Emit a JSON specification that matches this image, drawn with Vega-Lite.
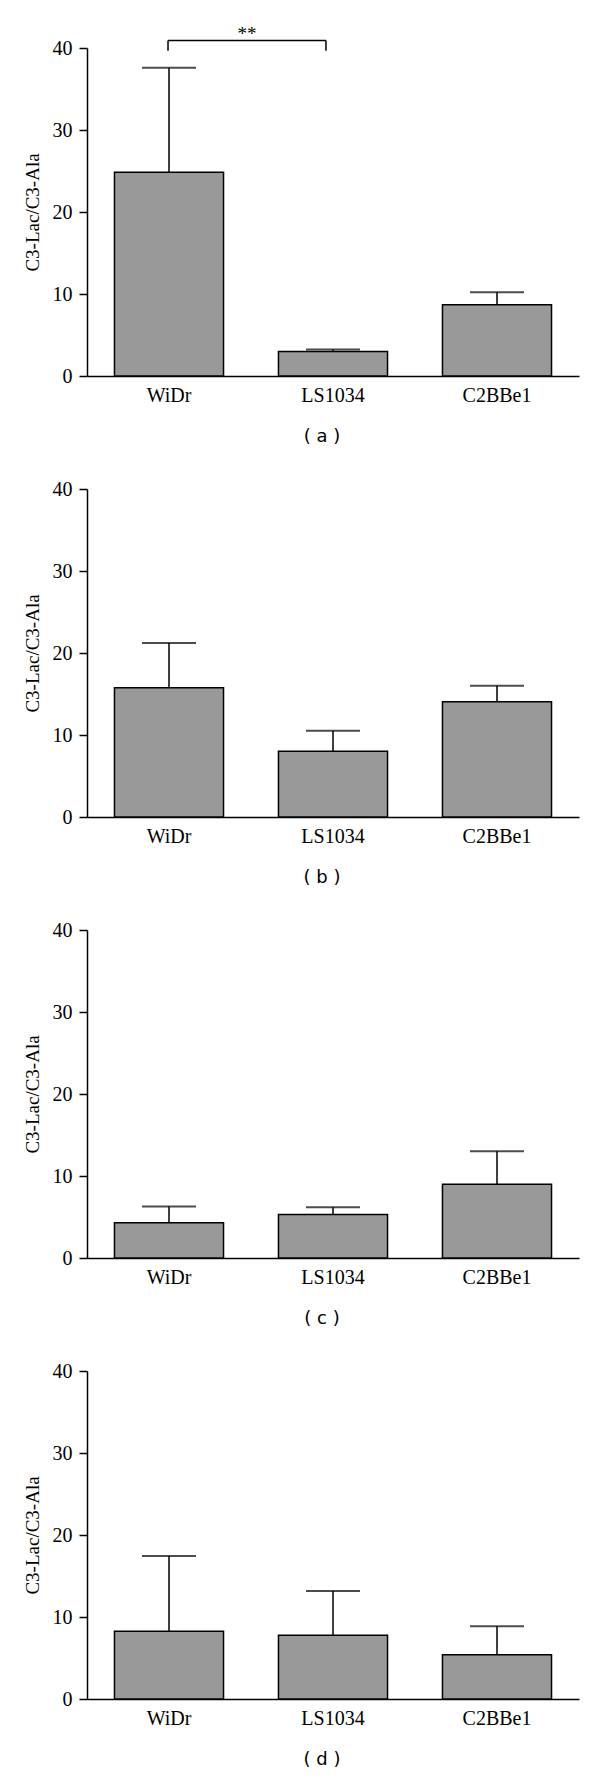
{
  "$schema": "https://vega.github.io/schema/vega-lite/v6.json",
  "background": "white",
  "padding": {"top": 24, "left": 23, "right": 5, "bottom": 5},
  "bounds": "flush",
  "spacing": 113,
  "datasets": {
    "bars": [
      {"panel": "a", "cell": "WiDr", "mean": 24.86, "upper": 37.6},
      {"panel": "a", "cell": "LS1034", "mean": 2.98, "upper": 3.22},
      {"panel": "a", "cell": "C2BBe1", "mean": 8.69, "upper": 10.2},
      {"panel": "b", "cell": "WiDr", "mean": 15.76, "upper": 21.22},
      {"panel": "b", "cell": "LS1034", "mean": 8.02, "upper": 10.51},
      {"panel": "b", "cell": "C2BBe1", "mean": 14.05, "upper": 16.01},
      {"panel": "c", "cell": "WiDr", "mean": 4.31, "upper": 6.27},
      {"panel": "c", "cell": "LS1034", "mean": 5.29, "upper": 6.19},
      {"panel": "c", "cell": "C2BBe1", "mean": 8.99, "upper": 13.02},
      {"panel": "d", "cell": "WiDr", "mean": 8.25, "upper": 17.44},
      {"panel": "d", "cell": "LS1034", "mean": 7.76, "upper": 13.17},
      {"panel": "d", "cell": "C2BBe1", "mean": 5.4, "upper": 8.86}
    ],
    "sig": [
      {"x1": 0.494, "x2": 1.457, "xm": 0.976, "ytop": 40.9, "yend": 39.67, "ystar": 41.0, "label": "**"}
    ]
  },
  "vconcat": [
    {
      "width": 492, "height": 328,
      "title": {"text": "( a )"},
      "layer": [
        {
          "data": {"name": "bars"},
          "transform": [{"filter": "datum.panel === 'a'"}],
          "encoding": {
            "x": {"field": "cell", "type": "nominal", "sort": ["WiDr", "LS1034", "C2BBe1"], "scale": {"paddingInner": 0.335, "paddingOuter": 0.1675}, "axis": {"title": null, "ticks": false, "labelAngle": 0, "labelPadding": 9}}
          },
          "layer": [
            {"mark": {"type": "bar", "fill": "#999999", "stroke": "black", "strokeWidth": 1.5},
             "encoding": {"y": {"field": "mean", "type": "quantitative", "scale": {"domain": [0, 40], "nice": false}, "axis": {"title": "C3-Lac/C3-Ala", "values": [0, 10, 20, 30, 40], "tickSize": 8, "labelPadding": 7, "titlePadding": 10}}}},
            {"mark": {"type": "rule", "color": "black", "strokeWidth": 1.5},
             "encoding": {"y": {"field": "mean", "type": "quantitative"}, "y2": {"field": "upper"}}},
            {"mark": {"type": "tick", "color": "black", "thickness": 2, "size": 54, "orient": "horizontal"},
             "encoding": {"y": {"field": "upper", "type": "quantitative"}}}
          ]
        },
        {
          "data": {"name": "sig"},
          "encoding": {
            "x": {"field": "x1", "type": "quantitative", "scale": {"domain": [0, 3], "nice": false, "zero": false}, "axis": null}
          },
          "layer": [
            {"mark": {"type": "rule", "color": "black", "strokeWidth": 1.5},
             "encoding": {"x2": {"field": "x2"}, "y": {"field": "ytop", "type": "quantitative"}}},
            {"mark": {"type": "rule", "color": "black", "strokeWidth": 1.5},
             "encoding": {"y": {"field": "yend", "type": "quantitative"}, "y2": {"field": "ytop"}}},
            {"mark": {"type": "rule", "color": "black", "strokeWidth": 1.5},
             "encoding": {"x": {"field": "x2", "type": "quantitative"}, "y": {"field": "yend", "type": "quantitative"}, "y2": {"field": "ytop"}}},
            {"mark": {"type": "text", "font": "Liberation Serif", "fontSize": 19, "baseline": "alphabetic", "color": "black"},
             "encoding": {"x": {"field": "xm", "type": "quantitative"}, "y": {"field": "ystar", "type": "quantitative"}, "text": {"field": "label"}}}
          ]
        }
      ],
      "resolve": {"scale": {"x": "independent"}, "axis": {"x": "independent"}}
    },
    {
      "width": 492, "height": 328,
      "title": {"text": "( b )"},
      "data": {"name": "bars"},
      "transform": [{"filter": "datum.panel === 'b'"}],
      "encoding": {
        "x": {"field": "cell", "type": "nominal", "sort": ["WiDr", "LS1034", "C2BBe1"], "scale": {"paddingInner": 0.335, "paddingOuter": 0.1675}, "axis": {"title": null, "ticks": false, "labelAngle": 0, "labelPadding": 9}}
      },
      "layer": [
        {"mark": {"type": "bar", "fill": "#999999", "stroke": "black", "strokeWidth": 1.5},
         "encoding": {"y": {"field": "mean", "type": "quantitative", "scale": {"domain": [0, 40], "nice": false}, "axis": {"title": "C3-Lac/C3-Ala", "values": [0, 10, 20, 30, 40], "tickSize": 8, "labelPadding": 7, "titlePadding": 10}}}},
        {"mark": {"type": "rule", "color": "black", "strokeWidth": 1.5},
         "encoding": {"y": {"field": "mean", "type": "quantitative"}, "y2": {"field": "upper"}}},
        {"mark": {"type": "tick", "color": "black", "thickness": 2, "size": 54, "orient": "horizontal"},
         "encoding": {"y": {"field": "upper", "type": "quantitative"}}}
      ]
    },
    {
      "width": 492, "height": 328,
      "title": {"text": "( c )"},
      "data": {"name": "bars"},
      "transform": [{"filter": "datum.panel === 'c'"}],
      "encoding": {
        "x": {"field": "cell", "type": "nominal", "sort": ["WiDr", "LS1034", "C2BBe1"], "scale": {"paddingInner": 0.335, "paddingOuter": 0.1675}, "axis": {"title": null, "ticks": false, "labelAngle": 0, "labelPadding": 9}}
      },
      "layer": [
        {"mark": {"type": "bar", "fill": "#999999", "stroke": "black", "strokeWidth": 1.5},
         "encoding": {"y": {"field": "mean", "type": "quantitative", "scale": {"domain": [0, 40], "nice": false}, "axis": {"title": "C3-Lac/C3-Ala", "values": [0, 10, 20, 30, 40], "tickSize": 8, "labelPadding": 7, "titlePadding": 10}}}},
        {"mark": {"type": "rule", "color": "black", "strokeWidth": 1.5},
         "encoding": {"y": {"field": "mean", "type": "quantitative"}, "y2": {"field": "upper"}}},
        {"mark": {"type": "tick", "color": "black", "thickness": 2, "size": 54, "orient": "horizontal"},
         "encoding": {"y": {"field": "upper", "type": "quantitative"}}}
      ]
    },
    {
      "width": 492, "height": 328,
      "title": {"text": "( d )"},
      "data": {"name": "bars"},
      "transform": [{"filter": "datum.panel === 'd'"}],
      "encoding": {
        "x": {"field": "cell", "type": "nominal", "sort": ["WiDr", "LS1034", "C2BBe1"], "scale": {"paddingInner": 0.335, "paddingOuter": 0.1675}, "axis": {"title": null, "ticks": false, "labelAngle": 0, "labelPadding": 9}}
      },
      "layer": [
        {"mark": {"type": "bar", "fill": "#999999", "stroke": "black", "strokeWidth": 1.5},
         "encoding": {"y": {"field": "mean", "type": "quantitative", "scale": {"domain": [0, 40], "nice": false}, "axis": {"title": "C3-Lac/C3-Ala", "values": [0, 10, 20, 30, 40], "tickSize": 8, "labelPadding": 7, "titlePadding": 10}}}},
        {"mark": {"type": "rule", "color": "black", "strokeWidth": 1.5},
         "encoding": {"y": {"field": "mean", "type": "quantitative"}, "y2": {"field": "upper"}}},
        {"mark": {"type": "tick", "color": "black", "thickness": 2, "size": 54, "orient": "horizontal"},
         "encoding": {"y": {"field": "upper", "type": "quantitative"}}}
      ]
    }
  ],
  "config": {
    "view": {"stroke": null},
    "axis": {
      "grid": false,
      "domainColor": "black", "domainWidth": 1.5,
      "tickColor": "black", "tickWidth": 1.5,
      "labelColor": "black", "titleColor": "black",
      "labelFont": "Liberation Serif", "labelFontSize": 20,
      "titleFont": "Liberation Serif", "titleFontSize": 19, "titleFontWeight": "normal"
    },
    "title": {
      "orient": "bottom", "anchor": "middle", "font": "DejaVu Sans", "fontSize": 18,
      "fontWeight": "normal", "color": "black", "offset": 23, "dx": -11
    }
  }
}
